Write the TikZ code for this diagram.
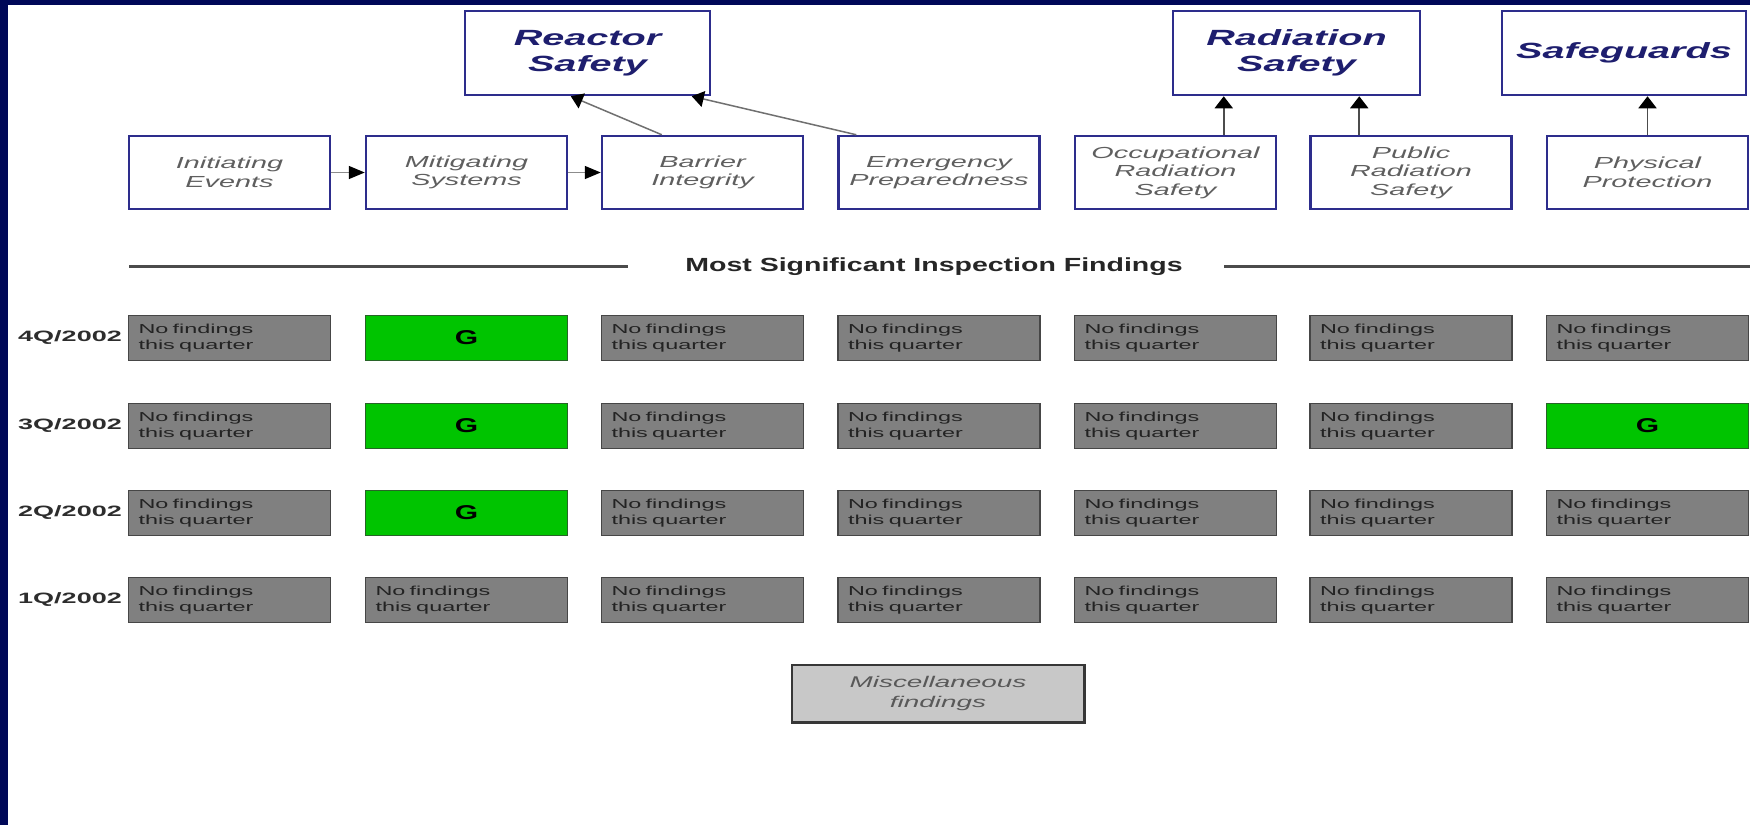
\documentclass[tikz,border=0pt]{standalone}
\usepackage{fontspec}
\setmainfont{Liberation Sans}
\newfontfamily\wide[FakeStretch=1.8]{Liberation Sans}
\newfontfamily\hdrfont[FakeStretch=1.5]{Liberation Sans}
\newfontfamily\gfont[FakeStretch=1.5]{Liberation Sans}
\usetikzlibrary{arrows.meta,calc}
\definecolor{navybg}{RGB}{0,8,88}
\definecolor{boxnavy}{RGB}{45,45,140}
\definecolor{titlenavy}{RGB}{30,30,110}
\definecolor{subgray}{RGB}{95,95,95}
\definecolor{findgray}{RGB}{128,128,128}
\definecolor{graydark}{RGB}{70,70,70}
\definecolor{findtext}{RGB}{35,35,35}
\definecolor{findgreen}{RGB}{0,196,0}
\definecolor{greenedge}{RGB}{40,100,40}
\definecolor{miscgray}{RGB}{200,200,200}
\definecolor{miscedge}{RGB}{55,55,55}
\definecolor{rulegray}{RGB}{75,75,75}
\definecolor{linkgray}{RGB}{140,140,140}
\definecolor{labeltext}{RGB}{45,45,45}
\newcommand{\nofindtxt}{No findings\\this quarter}
\begin{document}
\begin{tikzpicture}[x=1pt,y=-1pt,
  topbox/.style={draw=boxnavy, line width=2.5pt, fill=white, minimum width=245pt, minimum height=84pt, inner sep=0pt, align=center, font=\wide\bfseries\itshape\fontsize{22}{26}\selectfont, text=titlenavy},
  subbox/.style={draw=boxnavy, line width=2.5pt, fill=white, minimum width=201pt, minimum height=73pt, inner sep=0pt, align=center, font=\wide\itshape\fontsize{16}{18.5}\selectfont, text=subgray},
  nofind/.style={draw=graydark, line width=1.5pt, fill=findgray, minimum width=202pt, minimum height=45pt, inner xsep=10pt, inner ysep=0pt, text width=182pt, align=left, font=\wide\fontsize{13}{16.5}\selectfont, text=findtext},
  gfind/.style={draw=greenedge, line width=1.5pt, fill=findgreen, minimum width=202pt, minimum height=45pt, inner sep=0pt, font=\gfont\bfseries\fontsize{20}{24}\selectfont, text=black},
  qlabel/.style={anchor=east, inner sep=0pt, font=\wide\bfseries\fontsize{15}{18}\selectfont, text=labeltext},
  hdrnode/.style={inner sep=0pt, font=\hdrfont\bfseries\fontsize{19}{22}\selectfont, text=black!85},
  rule/.style={draw=rulegray, line width=3pt},
  hlink/.style={draw=linkgray, line width=1.5pt, -{Triangle[length=16pt,width=13pt,color=black]}},
  dlink/.style={draw=linkgray!80!black, line width=1.5pt, -{Triangle[length=12pt,width=16pt,color=black]}},
  vlink/.style={draw=black!70, line width=1.8pt, -{Triangle[length=12pt,width=18pt,color=black]}},
  misc/.style={draw=miscedge, line width=1.5pt, fill=miscgray, minimum width=292pt, minimum height=57pt, inner sep=0pt, align=center, font=\wide\itshape\fontsize{15.5}{20}\selectfont, text=black!65},
  miscshadow/.style={draw=miscedge, line width=3pt}
]
\useasboundingbox (0,0) rectangle (1750,825);
\fill[navybg] (0,0) rectangle (1750,825);
\fill[white] (8,5) rectangle (1750,825);

% top categories
\node[topbox] (rs) at (587.5,53) {Reactor\\Safety};
\node[topbox, minimum width=247pt] (rad) at (1296.5,53) {Radiation\\Safety};
\node[topbox, minimum width=244pt] (sg) at (1624,53) {Safeguards};

% cornerstones
\node[subbox] (ie) at (229.5,172.5) {Initiating\\Events};
\node[subbox] (ms) at (466.5,172.5) {Mitigating\\Systems};
\node[subbox] (bi) at (702.5,172.5) {Barrier\\Integrity};
\node[subbox] (ep) at (939,172.5) {Emergency\\Preparedness};
\node[subbox] (ors) at (1175.5,172.5) {Occupational\\Radiation\\Safety};
\node[subbox] (prs) at (1411,172.5) {Public\\Radiation\\Safety};
\node[subbox] (pp) at (1647.5,172.5) {Physical\\Protection};

% connectors
\draw[hlink] (ie) -- (ms);
\draw[hlink] (ms) -- (bi);
\coordinate (bitop) at ($(bi.north west)+(61,0)$);
\coordinate (rsbl) at ($(rs.south west)+(107,0)$);
\coordinate (eptop) at ($(ep.north west)+(19,0)$);
\coordinate (rsbr) at ($(rs.south west)+(228,0)$);
\draw[dlink] (bitop) -- (rsbl);
\draw[dlink] (eptop) -- (rsbr);
\coordinate (orstop) at ($(ors.north west)+(150,0)$);
\coordinate (prstop) at ($(prs.north west)+(50,0)$);
\draw[vlink] (orstop) -- (orstop |- rad.south);
\draw[vlink] (prstop) -- (prstop |- rad.south);
\draw[vlink] (pp.north) -- (pp.north |- sg.south);

% header
\node[hdrnode] (hdr) at (934,267) {Most Significant Inspection Findings};
\coordinate (rlA) at (129,266);
\coordinate (rlB) at (628,266);
\coordinate (rrA) at (1224,266);
\coordinate (rrB) at (1750,266);
\draw[rule] (rlA) -- (rlB);
\draw[rule] (rrA) -- (rrB);

% row labels
\node[qlabel] (q4) at (122,338) {4Q/2002};
\node[qlabel] (q3) at (122,426) {3Q/2002};
\node[qlabel] (q2) at (122,513) {2Q/2002};
\node[qlabel] (q1) at (122,600) {1Q/2002};

% 4Q
\node[nofind] (f4a) at (229.5,338) {\nofindtxt};
\node[gfind]  (f4b) at (466.5,338) {G};
\node[nofind] (f4c) at (702.5,338) {\nofindtxt};
\node[nofind] (f4d) at (939,338) {\nofindtxt};
\node[nofind] (f4e) at (1175.5,338) {\nofindtxt};
\node[nofind] (f4f) at (1411,338) {\nofindtxt};
\node[nofind] (f4g) at (1647.5,338) {\nofindtxt};
% 3Q
\node[nofind] (f3a) at (229.5,426) {\nofindtxt};
\node[gfind]  (f3b) at (466.5,426) {G};
\node[nofind] (f3c) at (702.5,426) {\nofindtxt};
\node[nofind] (f3d) at (939,426) {\nofindtxt};
\node[nofind] (f3e) at (1175.5,426) {\nofindtxt};
\node[nofind] (f3f) at (1411,426) {\nofindtxt};
\node[gfind]  (f3g) at (1647.5,426) {G};
% 2Q
\node[nofind] (f2a) at (229.5,513) {\nofindtxt};
\node[gfind]  (f2b) at (466.5,513) {G};
\node[nofind] (f2c) at (702.5,513) {\nofindtxt};
\node[nofind] (f2d) at (939,513) {\nofindtxt};
\node[nofind] (f2e) at (1175.5,513) {\nofindtxt};
\node[nofind] (f2f) at (1411,513) {\nofindtxt};
\node[nofind] (f2g) at (1647.5,513) {\nofindtxt};
% 1Q
\node[nofind] (f1a) at (229.5,600) {\nofindtxt};
\node[nofind] (f1b) at (466.5,600) {\nofindtxt};
\node[nofind] (f1c) at (702.5,600) {\nofindtxt};
\node[nofind] (f1d) at (939,600) {\nofindtxt};
\node[nofind] (f1e) at (1175.5,600) {\nofindtxt};
\node[nofind] (f1f) at (1411,600) {\nofindtxt};
\node[nofind] (f1g) at (1647.5,600) {\nofindtxt};

% miscellaneous
\node[misc] (misc) at (938,693.5) {Miscellaneous\\findings};
\draw[miscshadow] (misc.north east) -- (misc.south east) -- (misc.south west);
\end{tikzpicture}
\end{document}
